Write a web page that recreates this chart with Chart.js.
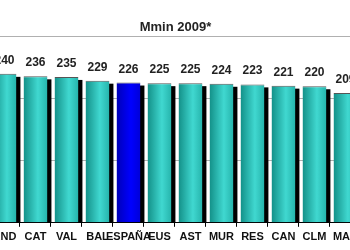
<!DOCTYPE html>
<html>
<head>
<meta charset="utf-8">
<script src="https://cdn.jsdelivr.net/npm/chart.js@4/dist/chart.umd.min.js"></script>
<style>
  html, body { margin: 0; padding: 0; background: #fff; }
  #frame { position: relative; width: 350px; height: 250px; overflow: hidden; }
  #wrap { position: absolute; left: -40px; top: 0; width: 402px; height: 250px; }
</style>
</head>
<body>
<div id="frame"><div id="wrap"><canvas id="chart"></canvas></div></div>
<script>
// valores (recortado a izquierda y derecha)
const categories = ['AND', 'CAT', 'VAL', 'BAL', 'ESPAÑA', 'EUS', 'AST', 'MUR', 'RES', 'CAN', 'CLM', 'MAD'];
const values = [240, 236, 235, 229, 226, 225, 225, 224, 223, 221, 220, 209];
const highlight = 'ESPAÑA';
const yMin = 0, yMax = 300, yStep = 100;
const titleText = 'Mmin 2009*';

const FONT = "'Liberation Sans', Arial, sans-serif";
const BAR_PCT = 0.77;

// relleno tipo cilindro
function barFill(ctx) {
  const chart = ctx.chart;
  const xs = chart.scales.x;
  const blue = categories[ctx.dataIndex] === highlight;
  const flat = blue ? '#0000ff' : '#30c8c0';
  if (!xs || ctx.type !== 'data') return flat;
  const cx = xs.getPixelForValue(ctx.dataIndex);
  const w = (xs.width / categories.length) * BAR_PCT;
  if (!isFinite(cx) || !isFinite(w) || w <= 0) return flat;
  const g = chart.ctx.createLinearGradient(cx - w / 2, 0, cx + w / 2, 0);
  if (blue) {
    g.addColorStop(0, '#0000b8');
    g.addColorStop(0.6, '#0000ff');
    g.addColorStop(1, '#0000d8');
  } else {
    g.addColorStop(0, '#139088');
    g.addColorStop(0.6, '#40d8d0');
    g.addColorStop(1, '#26b4ac');
  }
  return g;
}

// sombra negra detras de cada barra (desplazada a la derecha y abajo)
const shadowPlugin = {
  id: 'barShadow',
  beforeDatasetsDraw(chart) {
    const c = chart.ctx;
    const meta = chart.getDatasetMeta(0);
    const area = chart.chartArea;
    c.save();
    c.beginPath();
    c.rect(area.left, area.top, area.right - area.left, area.bottom - area.top);
    c.clip();
    c.fillStyle = '#000';
    meta.data.forEach(bar => {
      const w = bar.width;
      c.fillRect(bar.x - w / 2 + 4, bar.y + 3, w, bar.base - bar.y - 3);
    });
    c.restore();
  }
};

// etiquetas de valor encima de las barras
const valueLabels = {
  id: 'valueLabels',
  afterDatasetsDraw(chart) {
    const c = chart.ctx;
    const meta = chart.getDatasetMeta(0);
    c.save();
    c.font = 'bold 12px ' + FONT;
    c.fillStyle = '#222';
    c.textAlign = 'center';
    c.textBaseline = 'alphabetic';
    meta.data.forEach((bar, i) => {
      c.fillText(String(values[i]), bar.x, bar.y - 10);
    });
    c.restore();
  }
};

const chart = new Chart(document.getElementById('chart'), {
  type: 'bar',
  data: {
    labels: categories,
    datasets: [{
      data: values,
      backgroundColor: barFill,
      borderColor: '#555',
      borderWidth: { top: 1, left: 0, right: 0, bottom: 0 },
      categoryPercentage: 1,
      barPercentage: BAR_PCT
    }]
  },
  options: {
    responsive: true,
    maintainAspectRatio: false,
    animation: false,
    layout: { padding: { left: 29, right: 0, top: 0, bottom: 2 } },
    plugins: {
      legend: { display: false },
      tooltip: { enabled: false },
      title: {
        display: true,
        text: titleText,
        color: '#222',
        font: { family: FONT, size: 13, weight: 'bold' },
        padding: { top: 20, bottom: 1 }
      }
    },
    scales: {
      x: {
        grid: { offset: true, drawOnChartArea: false, drawTicks: true, tickLength: 4, color: '#000' },
        border: { display: true, color: '#000', width: 1 },
        ticks: {
          autoSkip: false, maxRotation: 0, minRotation: 0, padding: 4,
          color: '#111',
          font: { family: FONT, size: 11, weight: 'bold' }
        }
      },
      y: {
        min: yMin,
        max: yMax,
        ticks: { display: false, stepSize: yStep },
        grid: { color: '#b0b0b0', drawTicks: false },
        border: { display: false }
      }
    }
  },
  plugins: [shadowPlugin, valueLabels]
});
// segunda pasada para que el degradado use las posiciones ya calculadas
chart.update('none');
</script>
</body>
</html>
